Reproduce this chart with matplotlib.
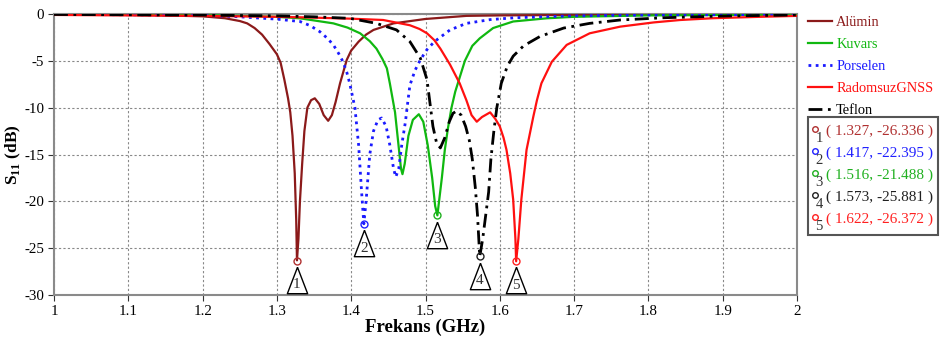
import matplotlib
matplotlib.use("Agg")
import matplotlib.pyplot as plt
import matplotlib.transforms as mtransforms
from matplotlib.lines import Line2D
from matplotlib.patches import Rectangle

plt.rcParams['font.family'] = ['Liberation Serif', 'DejaVu Serif']
plt.rcParams['mathtext.fontset'] = 'custom'
plt.rcParams['mathtext.rm'] = 'Liberation Serif'
plt.rcParams['mathtext.bf'] = 'Liberation Serif:bold'
plt.rcParams['axes.unicode_minus'] = False

# ---------------- data ----------------
alumin_f = [1.00, 1.10, 1.15, 1.20, 1.23, 1.25, 1.26, 1.27, 1.28, 1.29, 1.30, 1.305, 1.31, 1.315,
            1.318, 1.321, 1.324, 1.326, 1.327, 1.329, 1.331, 1.334, 1.337, 1.341, 1.346, 1.351,
            1.357, 1.363, 1.369, 1.374, 1.379, 1.385, 1.394, 1.40, 1.41, 1.42, 1.43, 1.457,
            1.50, 1.555, 1.60, 1.70, 1.80, 2.00]
alumin_db = [-0.05, -0.10, -0.15, -0.25, -0.45, -0.75, -1.0, -1.5, -2.2, -3.2, -4.3, -5.2, -7.0, -9.0,
             -10.5, -13.0, -17.0, -22.0, -26.3, -24.0, -20.0, -16.0, -12.5, -10.0, -9.2, -9.0,
             -9.6, -10.8, -11.4, -10.8, -9.4, -7.4, -4.9, -3.9, -2.95, -2.2, -1.7, -1.0,
             -0.53, -0.2, -0.15, -0.1, -0.07, -0.05]

kuvars_f = [1.00, 1.20, 1.30, 1.331, 1.376, 1.395, 1.412, 1.425, 1.434, 1.442, 1.448, 1.452, 1.459,
            1.463, 1.467, 1.469, 1.472, 1.477, 1.483, 1.491, 1.497, 1.503, 1.509, 1.513, 1.516,
            1.519, 1.522, 1.526, 1.530, 1.535, 1.540, 1.553, 1.563, 1.573, 1.591, 1.618, 1.663,
            1.70, 1.80, 2.00]
kuvars_db = [-0.03, -0.1, -0.3, -0.46, -1.0, -1.45, -2.06, -2.9, -3.7, -4.8, -5.8, -7.4, -10.5,
             -13.5, -16.5, -17.1, -16.0, -13.0, -11.3, -10.7, -11.5, -14.0, -17.5, -20.5, -21.5,
             -19.5, -17.5, -14.5, -12.3, -10.0, -8.3, -5.0, -3.4, -2.6, -1.5, -0.8, -0.46,
             -0.3, -0.15, -0.07]

porselen_f = [1.00, 1.10, 1.20, 1.25, 1.30, 1.331, 1.345, 1.358, 1.368, 1.376, 1.383, 1.389, 1.394,
              1.398, 1.405, 1.41, 1.414, 1.417, 1.420, 1.425, 1.430, 1.436, 1.441, 1.447, 1.452,
              1.457, 1.460, 1.464, 1.468, 1.473, 1.476, 1.479, 1.486, 1.493, 1.502, 1.512, 1.533,
              1.555, 1.587, 1.62, 1.70, 1.80, 2.00]
porselen_db = [-0.05, -0.08, -0.15, -0.3, -0.55, -0.8, -1.25, -1.9, -2.6, -3.3, -4.2, -5.1, -6.2,
               -7.4, -10.0, -14.0, -19.0, -22.4, -20.0, -15.0, -12.5, -11.3, -11.1, -12.0, -14.0,
               -16.5, -17.4, -16.5, -14.0, -11.5, -9.5, -7.6, -6.0, -4.9, -3.8, -2.95, -1.7,
               -1.0, -0.6, -0.4, -0.2, -0.1, -0.05]

radomsuz_f = [1.00, 1.10, 1.20, 1.30, 1.336, 1.40, 1.443, 1.479, 1.492, 1.502, 1.512, 1.520, 1.533,
              1.546, 1.555, 1.562, 1.569, 1.576, 1.587, 1.594, 1.600, 1.605, 1.609, 1.614, 1.618,
              1.621, 1.622, 1.625, 1.629, 1.636, 1.645, 1.650, 1.656, 1.670, 1.690, 1.721, 1.762,
              1.807, 1.843, 1.887, 1.95, 2.00]
radomsuz_db = [-0.1, -0.15, -0.2, -0.3, -0.36, -0.5, -0.64, -1.2, -1.6, -2.06, -2.8, -3.7, -5.4,
               -7.4, -9.2, -10.8, -11.5, -11.0, -10.5, -11.2, -12.0, -13.2, -14.5, -17.0, -19.8,
               -24.0, -26.4, -24.0, -19.8, -14.5, -11.0, -9.2, -7.4, -5.1, -3.3, -2.06, -1.35,
               -0.9, -0.64, -0.45, -0.3, -0.2]

teflon_f = [1.00, 1.10, 1.20, 1.30, 1.35, 1.398, 1.434, 1.461, 1.479, 1.493, 1.502, 1.506, 1.510,
            1.515, 1.520, 1.526, 1.532, 1.537, 1.542, 1.548, 1.554, 1.559, 1.563, 1.567, 1.570,
            1.573, 1.577, 1.581, 1.585, 1.588, 1.592, 1.596, 1.602, 1.610, 1.618, 1.632, 1.654,
            1.686, 1.721, 1.762, 1.82, 1.90, 2.00]
teflon_db = [-0.05, -0.08, -0.12, -0.2, -0.3, -0.46, -1.0, -1.7, -2.95, -4.7, -7.0, -9.5, -12.0,
             -13.8, -14.3, -13.2, -11.5, -10.6, -10.35, -10.8, -12.0, -13.5, -15.5, -18.5, -21.5,
             -25.9, -24.0, -21.5, -19.0, -15.5, -12.5, -10.0, -7.4, -5.6, -4.5, -3.4, -2.4,
             -1.5, -1.0, -0.64, -0.4, -0.22, -0.1]

marker_ids = ['1', '2', '3', '4', '5']
marker_f = [1.327, 1.417, 1.516, 1.573, 1.622]
marker_db = [-26.336, -22.395, -21.488, -25.881, -26.372]
marker_colors = ['#b03030', '#2020ff', '#20b020', '#202020', '#ff2020']

x_ticks = [1.0, 1.1, 1.2, 1.3, 1.4, 1.5, 1.6, 1.7, 1.8, 1.9, 2.0]
x_ticklabels = ['1', '1.1', '1.2', '1.3', '1.4', '1.5', '1.6', '1.7', '1.8', '1.9', '2']
y_ticks = [0, -5, -10, -15, -20, -25, -30]

# ---------------- figure ----------------
fig = plt.figure(figsize=(9.4, 3.38), dpi=100)
ax = fig.add_axes([54 / 940, 1 - 295 / 338, (797 - 54) / 940, (295 - 14) / 338])

c_al, c_ku, c_po, c_ra, c_te = '#8b1a1a', '#10b810', '#1a1aff', '#ff1010', '#000000'
lw = 1.6
ax.plot(alumin_f, alumin_db, color=c_al, lw=lw, label='Alümin', zorder=3)
ax.plot(kuvars_f, kuvars_db, color=c_ku, lw=lw, label='Kuvars', zorder=3)
ax.plot(porselen_f, porselen_db, color=c_po, lw=2.0, ls=(0, (1, 1.6)), label='Porselen', zorder=3)
ax.plot(radomsuz_f, radomsuz_db, color=c_ra, lw=lw, label='RadomsuzGNSS', zorder=3)
ax.plot(teflon_f, teflon_db, color=c_te, lw=2.0, ls=(0, (5, 2, 1, 2)), label='Teflon', zorder=3)

# marker circles
for f, d, c in zip(marker_f, marker_db, marker_colors):
    ax.plot([f], [d], marker='o', ms=5, mfc='none', mec=c, mew=1.0, zorder=5)

# triangles with numbers below markers
tri = [(0, 1.3), (-1, -1.3), (1, -1.3), (0, 1.3)]
tri_trans = mtransforms.offset_copy(ax.transData, fig=fig, x=0, y=-14, units='points')
num_trans = mtransforms.offset_copy(ax.transData, fig=fig, x=0, y=-17.5, units='points')
for f, d, n in zip(marker_f, marker_db, marker_ids):
    ax.plot([f], [d], marker=tri, ms=19, mfc='white', mec='black', mew=1.0,
            transform=tri_trans, clip_on=False, zorder=6)
    ax.text(f, d, n, transform=num_trans, ha='center', va='center', fontsize=11,
            color='#333333', zorder=7, clip_on=False)

ax.set_xlim(1, 2)
ax.set_ylim(-30, 0)
ax.set_xticks(x_ticks)
ax.set_xticklabels(x_ticklabels)
ax.set_yticks(y_ticks)
ax.tick_params(labelsize=10.8, length=4, color='#333333', pad=3)
ax.grid(True, ls=(0, (2, 2)), color='#888888', lw=0.8)
for s in ax.spines.values():
    s.set_color('#8a8a8a')
    s.set_linewidth(1.5)
ax.set_xlabel('Frekans (GHz)', fontsize=13.5, fontweight='bold', labelpad=1)
ax.set_ylabel(r'S$_{\mathbf{11}}$ (dB)', fontsize=12.5, fontweight='bold')
ax.yaxis.set_label_coords(-0.042, 0.5)

leg = fig.legend(loc='upper left', bbox_to_anchor=(808 / 940, 1 - 16 / 338), frameon=False,
                 fontsize=10.4, handlelength=1.65, handletextpad=0.3, labelspacing=0.62,
                 borderaxespad=0, borderpad=0, labelcolor='linecolor')

# marker value box
box = Rectangle((808 / 940, 1 - 235 / 338), 130 / 940, 118 / 338, transform=fig.transFigure,
                fill=False, edgecolor='#555555', lw=1.5)
fig.add_artist(box)
row_y = [131, 153, 175, 197, 219]
for y, n, f, d, c in zip(row_y, marker_ids, marker_f, marker_db, marker_colors):
    fig.add_artist(Line2D([815 / 940], [1 - (y - 2) / 338], marker='o', ms=4, mfc='none', mec=c,
                          mew=1.0, transform=fig.transFigure))
    fig.text(819 / 940, 1 - (y + 7) / 338, n, fontsize=10.5, color='#333333', ha='center', va='center')
    fig.text(826 / 940, 1 - y / 338, '( %.3f, %.3f )' % (f, d), fontsize=11, color=c,
             ha='left', va='center')

fig.savefig('out.png', dpi=100)
